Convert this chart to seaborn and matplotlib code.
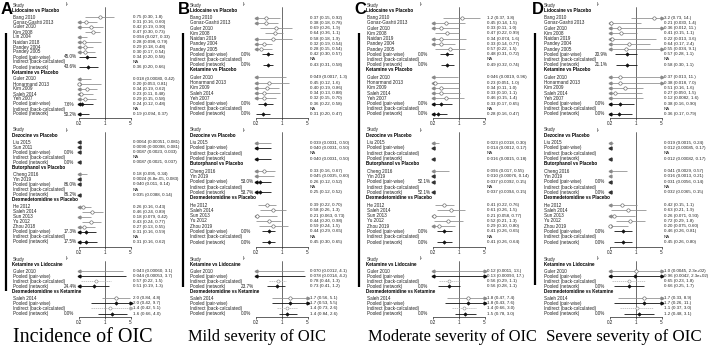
import re
import numpy as np
import pandas as pd
import matplotlib
matplotlib.use("Agg")
import matplotlib.pyplot as plt
import seaborn as sns

# ---------------------------------------------------------------- data
PANEL_LETTERS = ["A", "B", "C", "D"]
CAPTIONS = ["Incidence of OIC", "Mild severity of OIC",
            "Moderate severity of OIC", "Severe severity of OIC"]

POOLED_LABELS = ["Pooled (pair-wise)", "Indirect (back-calculated)", "Pooled (network)"]
BLOCK1_COMPS = ["Lidocaine vs Placebo", "Ketamine vs Placebo"]
BLOCK2_COMPS = ["Dezocine vs Placebo", "Butorphanol vs Placebo", "Dexmedetomidine vs Placebo"]
BLOCK3_COMPS = ["Ketamine vs Lidocaine", "Dexmedetomidine vs Ketamine"]

LID_STUDIES_A = ["Bang 2010", "Gonaz-Gashti 2013", "Guler 2010", "Kim 2008", "Lin 2004",
                 "Naidan 2018", "Pandey 2004", "Pandey 2005"]
LID_STUDIES = ["Bang 2010", "Gonaz-Gashti 2013", "Guler 2010", "Kim 2008",
               "Naidan 2019", "Pandey 2004", "Pandey 2005"]
KET_STUDIES = ["Guler 2010", "Honarmand 2013", "Kim 2009", "Saleh 2014", "Yeh 2007"]
DEZ_STUDIES_A = ["Liu 2015", "Sun 2011"]
DEZ_STUDIES = ["Liu 2015"]
BUT_STUDIES = ["Cheng 2016", "Yin 2019"]
DEX_STUDIES_A = ["He 2012", "Saleh 2014", "Sun 2013", "Yu 2012", "Zhou 2018"]
DEX_STUDIES = ["He 2012", "Saleh 2014", "Sun 2013", "Yu 2012", "Zhou 2019"]
KVL_STUDIES = ["Guler 2010"]
DVK_STUDIES = ["Saleh 2014"]

# Panel A: incidence
A_LID = ["0.75 (0.30, 1.8)", "0.31 (0.16, 0.60)", "0.42 (0.19, 0.90)", "0.47 (0.30, 0.73)",
         "0.094 (0.027, 0.33)", "0.28 (0.098, 0.79)", "0.29 (0.18, 0.48)", "0.30 (0.17, 0.54)",
         "0.34 (0.20, 0.58)", "NA", "0.36 (0.20, 0.66)"]
A_KET = ["0.018 (0.00080, 0.42)", "0.20 (0.053, 0.81)", "0.34 (0.19, 0.62)", "0.23 (0.11, 0.48)",
         "0.29 (0.15, 0.58)", "0.24 (0.12, 0.48)", "NA", "0.19 (0.094, 0.37)"]
A_DEZ = ["0.0064 (0.00051, 0.081)", "0.0090 (0.00098, 0.081)",
         "0.0087 (0.0023, 0.033)", "NA", "0.0087 (0.0021, 0.037)"]
A_BUT = ["0.18 (0.095, 0.34)", "0.0024 (6.8e-05, 0.083)", "0.040 (0.011, 0.14)", "NA",
         "0.035 (0.0088, 0.14)"]
A_DEX = ["0.26 (0.16, 0.43)", "0.46 (0.24, 0.89)", "0.18 (0.079, 0.42)", "0.43 (0.24, 0.77)",
         "0.27 (0.13, 0.55)", "0.31 (0.16, 0.59)", "NA", "0.31 (0.16, 0.62)"]
A_KVL = ["0.043 (0.00060, 3.1)", "0.044 (0.00053, 3.7)", "0.57 (0.22, 1.5)", "0.51 (0.19, 1.3)"]
A_DVK = ["2.0 (0.84, 4.8)", "2.0 (0.42, 9.7)", "1.4 (0.42, 5.1)", "1.6 (0.66, 4.0)"]
A_I2 = [("45.0%", "43.6%"), ("7.6%", "50.2%"), ("0.0%", "0.0%"), ("86.0%", "86.2%"),
        ("17.3%", "17.5%"), ("", "24.4%"), ("", "0.0%")]

# Panel B: mild
B_LID = ["0.37 (0.15, 0.92)", "0.38 (0.18, 0.78)", "0.69 (0.26, 1.9)", "0.64 (0.36, 1.1)",
         "0.58 (0.18, 1.9)", "0.32 (0.19, 0.54)", "0.28 (0.15, 0.54)",
         "0.42 (0.30, 0.57)", "NA", "0.43 (0.31, 0.58)"]
B_KET = ["0.049 (0.0017, 1.3)", "0.45 (0.12, 1.6)", "0.40 (0.19, 0.86)", "0.34 (0.13, 0.88)",
         "0.32 (0.15, 0.70)", "0.36 (0.22, 0.58)", "NA", "0.31 (0.20, 0.47)"]
B_DEZ = ["0.039 (0.0031, 0.50)", "0.040 (0.0031, 0.50)", "NA", "0.040 (0.0031, 0.50)"]
B_BUT = ["0.33 (0.16, 0.67)", "0.045 (0.0035, 0.60)", "0.26 (0.12, 0.52)", "NA",
         "0.25 (0.12, 0.52)"]
B_DEX = ["0.39 (0.22, 0.70)", "0.58 (0.26, 1.3)", "0.21 (0.063, 0.73)", "0.44 (0.20, 0.98)",
         "0.59 (0.24, 1.5)", "0.44 (0.29, 0.65)", "NA", "0.45 (0.30, 0.65)"]
B_KVL = ["0.070 (0.0012, 4.1)", "0.078 (0.0014, 4.2)", "0.78 (0.44, 1.3)", "0.73 (0.41, 1.2)"]
B_DVK = ["1.7 (0.56, 5.1)", "1.7 (0.53, 5.5)", "1.4 (0.73, 2.6)", "1.4 (0.84, 2.6)"]
B_I2 = [("0.0%", "0.0%"), ("0.0%", "0.0%"), ("", ""), ("53.0%", "53.7%"),
        ("0.0%", "0.0%"), ("", "23.7%"), ("", "0.0%")]

# Panel C: moderate
C_LID = ["1.2 (0.37, 3.8)", "0.45 (0.14, 1.5)", "0.33 (0.11, 1.0)", "0.47 (0.22, 0.99)",
         "0.34 (0.074, 1.6)", "0.33 (0.14, 0.77)", "0.57 (0.22, 1.5)",
         "0.48 (0.31, 0.72)", "NA", "0.49 (0.32, 0.74)"]
C_KET = ["0.046 (0.0019, 0.96)", "0.23 (0.051, 1.0)", "0.34 (0.11, 1.0)", "0.33 (0.10, 1.1)",
         "0.46 (0.15, 1.4)", "0.33 (0.17, 0.65)", "NA", "0.28 (0.16, 0.47)"]
C_DEZ = ["0.023 (0.0018, 0.30)", "0.014 (0.0012, 0.17)", "NA", "0.016 (0.0015, 0.18)"]
C_BUT = ["0.096 (0.017, 0.55)", "0.010 (0.00076, 0.14)", "0.037 (0.0092, 0.15)", "NA",
         "0.037 (0.0094, 0.15)"]
C_DEX = ["0.41 (0.22, 0.76)", "0.61 (0.26, 1.5)", "0.21 (0.058, 0.77)", "0.52 (0.21, 1.3)",
         "0.29 (0.10, 0.80)", "0.41 (0.26, 0.65)", "NA", "0.41 (0.26, 0.64)"]
C_KVL = ["0.12 (0.0011, 13.)", "0.13 (0.00093, 17.)", "0.56 (0.29, 1.1)", "0.56 (0.28, 1.1)"]
C_DVK = ["1.8 (0.47, 7.4)", "1.8 (0.43, 7.6)", "1.4 (0.66, 3.0)", "1.5 (0.78, 3.0)"]
C_I2 = [("0.0%", "0.0%"), ("0.0%", "0.0%"), ("", ""), ("52.1%", "52.1%"),
        ("0.0%", "0.0%"), ("", "0.0%"), ("", "0.0%")]

# Panel D: severe
D_LID = ["3.2 (0.73, 14.)", "0.21 (0.030, 1.4)", "0.36 (0.012, 11.)", "0.41 (0.15, 1.1)",
         "0.22 (0.013, 3.6)", "0.64 (0.17, 2.4)", "0.55 (0.034, 9.1)",
         "0.57 (0.28, 1.1)", "NA", "0.58 (0.30, 1.1)"]
D_KET = ["0.37 (0.013, 11.)", "0.38 (0.018, 7.0)", "0.51 (0.16, 1.6)", "0.27 (0.050, 1.5)",
         "0.12 (0.0082, 1.6)", "0.38 (0.16, 0.90)", "NA", "0.36 (0.17, 0.79)"]
D_DEZ = ["0.019 (0.0015, 0.24)", "0.012 (0.00085, 0.17)", "NA", "0.012 (0.00082, 0.17)"]
D_BUT = ["0.041 (0.0029, 0.57)", "0.016 (0.0013, 0.21)", "0.031 (0.0056, 0.14)", "NA",
         "0.032 (0.0065, 0.15)"]
D_DEX = ["0.42 (0.15, 1.1)", "0.63 (0.21, 1.9)", "0.26 (0.071, 0.93)", "0.72 (0.29, 1.8)",
         "0.20 (0.075, 0.60)", "0.46 (0.26, 0.81)", "NA", "0.45 (0.26, 0.80)"]
D_KVL = ["1.0 (0.0045, 2.3e+02)", "0.96 (0.0042, 2.3e+02)", "0.65 (0.23, 1.8)", "0.66 (0.25, 1.7)"]
D_DVK = ["1.7 (0.33, 8.9)", "1.7 (0.26, 11.)", "1.1 (0.37, 3.0)", "1.2 (0.48, 3.1)"]
D_I2 = [("20.9%", "21.1%"), ("0.0%", "0.0%"), ("", ""), ("0.0%", "0.0%"),
        ("0.0%", "0.0%"), ("", "0.0%"), ("", "0.0%")]

XTICKS = [0.2, 1, 5]
XTICK_LABELS = ["0.2", "1", "5"]

# ---------------------------------------------------------------- layout
W, H = 708, 348
PANEL_X = [0, 177, 354, 531]
BAR = [(6, 33, 291), (6, 33, 287), (5, 33, 287), (4, 33, 285)]
CAP_X = [82.5, 80.5, 98, 93]
CAP_SIZE = [14.5, 11.8, 11.8, 12.2]
X_LAB, X_I2, X_F0, X_F1, X_VAL = 13, 64, 79, 130.5, 133
BLOCKS = [(5, 114, 118), (130, 242, 246.5), (259, 313.5, 317)]
FS = 3.3
TXT = "#222222"

sns.set_theme(style="white")
plt.rcParams["font.family"] = ["Liberation Sans", "DejaVu Sans"]

fig = plt.figure(figsize=(W / 100, H / 100), dpi=100)
ov = fig.add_axes([0, 0, 1, 1])
ov.set_xlim(0, W)
ov.set_ylim(H, 0)
ov.axis("off")
ov.set_zorder(5)
ov.patch.set_alpha(0)

num = r"([0-9.]+(?:e[-+]?[0-9]+)?)"


def parse(s):
    m = re.match(num + r"\s*\(\s*" + num + r",\s*" + num + r"\)", s.strip())
    if not m:
        return None
    return tuple(float(v) for v in m.groups())


def block_rows(comps, studies_list, values_list, i2_list):
    rows = [("header",)]
    for comp, studies, vals, i2 in zip(comps, studies_list, values_list, i2_list):
        rows.append(("heading", comp))
        n = len(studies)
        for name, v in zip(studies, vals[:n]):
            rows.append(("study", name, v, ""))
        pooled = vals[n:]
        i2s = [i2[0], "", i2[1]]
        for lab, v, ii, kind in zip(POOLED_LABELS, pooled, i2s, ["pw", "ind", "net"]):
            rows.append((kind, lab, v, ii))
    return rows


def positions(rows, top, last):
    inc = []
    for r in rows[:-1]:
        inc.append(1.4 if r[0] == "heading" else 1.0)
    s = (last - top) / sum(inc)
    ys = [top]
    for d in inc:
        ys.append(ys[-1] + d * s)
    return ys


STYLE = {
    "study": dict(lc="#8a8a8a", lw=0.55, marker="o", ms=2.4, fc="white", ec="#555555"),
    "pw": dict(lc="#111111", lw=0.6, marker="D", ms=1.8, fc="#111111", ec="#111111"),
    "ind": dict(lc="#b0b0b0", lw=0.5, marker="o", ms=2.2, fc="white", ec="#888888"),
    "net": dict(lc="#111111", lw=0.6, marker="D", ms=1.8, fc="#111111", ec="#111111"),
}


def draw_block(pi, px, rows, top, last, axis_y):
    ys = positions(rows, top, last)
    ytop = top - 3
    ax = fig.add_axes([(px + X_F0) / W, 1 - axis_y / H, (X_F1 - X_F0) / W, (axis_y - ytop) / H])
    ax.set_xscale("log")
    recs = []
    for r, y in zip(rows, ys):
        kind = r[0]
        if kind == "header":
            ov.text(px + X_LAB, y, "Study", fontsize=FS, va="center", ha="left", color=TXT)
            ov.text(px + X_I2 + 2, y, "I\u00b2", fontsize=FS, va="center", ha="left", color=TXT)
            continue
        if kind == "heading":
            ov.text(px + X_LAB - 0.5, y, r[1], fontsize=FS, va="center", ha="left",
                    color="#000000", fontweight="bold")
            continue
        _, lab, v, i2 = r
        ov.text(px + X_LAB, y, lab, fontsize=FS, va="center", ha="left", color=TXT)
        ov.text(px + X_VAL, y, v, fontsize=FS * 0.95, va="center", ha="left", color=TXT)
        if i2:
            ov.text(px + X_I2, y, i2, fontsize=FS, va="center", ha="left", color=TXT)
        p = parse(v)
        if p is None:
            continue
        recs.append(dict(kind=kind, est=p[0], lo=p[1], hi=p[2], y=y))
    df = pd.DataFrame(recs)
    lo_lim, hi_lim = 0.2, 5.0
    for _, d in df.iterrows():
        st = STYLE[d.kind]
        if d.hi < lo_lim:
            ax.plot([lo_lim], [d.y], marker="<", ms=2.2, color="#333333", clip_on=False, lw=0)
            continue
        if d.lo > hi_lim:
            ax.plot([hi_lim], [d.y], marker=">", ms=2.2, color="#333333", clip_on=False, lw=0)
            continue
        a, b = max(d.lo, lo_lim), min(d.hi, hi_lim)
        ax.plot([a, b], [d.y, d.y], color=st["lc"], lw=st["lw"], solid_capstyle="butt",
                linestyle=(0, (2, 1)) if d.kind == "ind" else "-", clip_on=False)
        if d.lo < lo_lim:
            ax.plot([lo_lim], [d.y], marker="<", ms=2.0, color=st["lc"], clip_on=False, lw=0)
        if d.hi > hi_lim:
            ax.plot([hi_lim], [d.y], marker=">", ms=2.0, color=st["lc"], clip_on=False, lw=0)
    for kind in ["study", "ind", "pw", "net"]:
        sub = df[(df.kind == kind) & (df.est >= lo_lim) & (df.est <= hi_lim)]
        if len(sub) == 0:
            continue
        st = STYLE[kind]
        sns.scatterplot(data=sub, x="est", y="y", ax=ax, marker=st["marker"], s=st["ms"] ** 2,
                        color=st["fc"], edgecolor=st["ec"], linewidth=0.4, zorder=4,
                        clip_on=False, legend=False)
    first_heading = ys[1]
    ax.plot([1, 1], [first_heading - 3, axis_y], color="#333333", lw=0.5, zorder=1, clip_on=False)
    ax.set_xlim(lo_lim, hi_lim)
    ax.set_ylim(axis_y, ytop)
    ax.set_xticks(XTICKS)
    ax.set_xticklabels(XTICK_LABELS)
    ax.minorticks_off()
    ax.set_yticks([])
    ax.set_xlabel("")
    ax.set_ylabel("")
    ax.patch.set_alpha(0)
    for sp in ["left", "right", "top"]:
        ax.spines[sp].set_visible(False)
    ax.spines["bottom"].set_color("#222222")
    ax.spines["bottom"].set_linewidth(0.5)
    ax.tick_params(axis="x", length=1.6, width=0.5, pad=0.8, labelsize=FS, colors="#222222",
                   bottom=True, direction="out")


ALL = {
    "A": (A_LID, A_KET, A_DEZ, A_BUT, A_DEX, A_KVL, A_DVK, A_I2, LID_STUDIES_A, DEZ_STUDIES_A, DEX_STUDIES_A),
    "B": (B_LID, B_KET, B_DEZ, B_BUT, B_DEX, B_KVL, B_DVK, B_I2, LID_STUDIES, DEZ_STUDIES, DEX_STUDIES),
    "C": (C_LID, C_KET, C_DEZ, C_BUT, C_DEX, C_KVL, C_DVK, C_I2, LID_STUDIES, DEZ_STUDIES, DEX_STUDIES),
    "D": (D_LID, D_KET, D_DEZ, D_BUT, D_DEX, D_KVL, D_DVK, D_I2, LID_STUDIES, DEZ_STUDIES, DEX_STUDIES),
}

for pi, letter in enumerate(PANEL_LETTERS):
    px = PANEL_X[pi]
    lid, ket, dez, but, dex, kvl, dvk, i2, lst, dst, xst = ALL[letter]
    ov.text(px + 0.5, 9, letter, fontsize=12, fontweight="bold", va="center", ha="left", color="black")
    r1 = block_rows(BLOCK1_COMPS, [lst, KET_STUDIES], [lid, ket], i2[0:2])
    r2 = block_rows(BLOCK2_COMPS, [dst, BUT_STUDIES, xst], [dez, but, dex], i2[2:5])
    r3 = block_rows(BLOCK3_COMPS, [KVL_STUDIES, DVK_STUDIES], [kvl, dvk], i2[5:7])
    for rows, (top, last, axy) in zip([r1, r2, r3], BLOCKS):
        draw_block(pi, px, rows, top, last, axy)
    bx, b0, b1 = BAR[pi]
    ov.plot([px + bx, px + bx], [b0, b1], color="black", lw=1.6, solid_capstyle="butt")
    ov.text(px + CAP_X[pi], 337, CAPTIONS[pi], fontsize=CAP_SIZE[pi], family="Liberation Serif",
            ha="center", va="center", color="black")

fig.savefig("out.png", dpi=100)
